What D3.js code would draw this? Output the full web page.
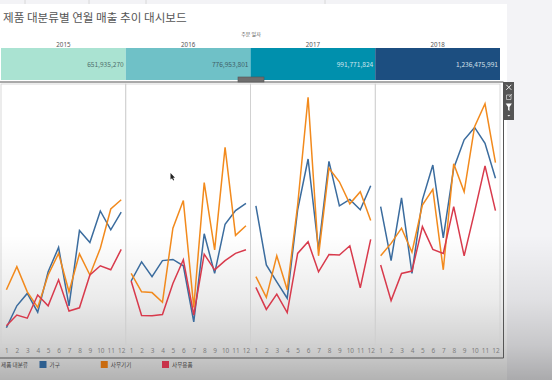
<!DOCTYPE html>
<html>
<head>
<meta charset="utf-8">
<script src="https://cdn.jsdelivr.net/npm/d3@7"></script>
<style>
  html, body { margin: 0; padding: 0; background: #f3f3f6; overflow: hidden; }
  text { font-family: "Noto Sans CJK KR", "Noto Sans", sans-serif; }
</style>
</head>
<body>
<div id="chart"></div>
<script>
const years = ["2015", "2016", "2017", "2018"];
const months = [1, 2, 3, 4, 5, 6, 7, 8, 9, 10, 11, 12];
const yearTotals = [651935270, 776953801, 991771824, 1236475991];
const yearColors = ["#aae3d2", "#6fc1c7", "#0090ad", "#1c4e80"];
const yearTextColors = ["#4f6f6c", "#3f5f68", "#cfe6ee", "#d5e0ea"];
const categories = ["가구", "사무기기", "사무용품"];
const categoryColors = ["#3b6c9e", "#f28a1d", "#d83a4c"];
const legendColors = ["#2e5f8f", "#c96b10", "#c8334a"];

// monthly sales by category, millions, one row per year
const furniture = [
  [4.3, 9.8, 12.9, 8.2, 18.3, 24.4, 9.8, 28.6, 25.6, 33.5, 28.8, 33.2],
  [16, 20.8, 17.1, 21.1, 21.4, 19.8, 5.8, 27.8, 17.9, 30.2, 33.6, 35.4],
  [34.8, 20, 15.8, 11.7, 33.8, 46.5, 23.9, 45.9, 34.8, 36.4, 33.8, 39.8],
  [34.6, 21.1, 36.8, 17.9, 36.3, 45, 26.8, 44.2, 51.3, 54.4, 50.4, 41.7],
];
const officeMachines = [
  [13.8, 19.6, 13.3, 9.4, 17.5, 22.9, 13.3, 22.8, 17.5, 24.2, 34, 36.3],
  [17.9, 13.3, 13.1, 10.7, 29.2, 36.1, 9.4, 40.6, 23.8, 49.4, 27.4, 29.8],
  [17.1, 11.9, 22.3, 13.8, 35, 61.9, 22.3, 44.2, 40.8, 35.3, 38.3, 31.1],
  [22.3, 25.4, 29.2, 23.2, 35, 38.9, 18.8, 45.3, 38.3, 54.6, 60.3, 45.6],
];
const officeSupplies = [
  [4.8, 7.5, 6.7, 12.5, 9.8, 16.3, 8.5, 9.3, 17.5, 19.8, 18.8, 23.9],
  [16, 7.4, 7.3, 7.6, 15.4, 21.3, 7.5, 22.7, 18.8, 21.1, 22.9, 23.8],
  [14.4, 8.9, 12.7, 8.1, 22.9, 25.8, 18.3, 22.6, 22.5, 24.8, 14.3, 26.4],
  [20, 11.1, 17.9, 18.5, 29.6, 23.9, 22.9, 34.6, 22.3, 33.3, 44.8, 33.6],
];
const seriesByCategory = [furniture, officeMachines, officeSupplies];

const width = 552;
const height = 380;

const svg = d3.select("#chart").append("svg")
  .attr("width", width)
  .attr("height", height)
  .style("display", "block");

// grey fade of the video capture over the lower part
const fade = svg.append("defs").append("linearGradient")
  .attr("id", "fade").attr("gradientUnits", "userSpaceOnUse")
  .attr("x1", 0).attr("x2", 0).attr("y1", 235).attr("y2", 380);
fade.append("stop").attr("offset", "0%").attr("stop-color", "#000").attr("stop-opacity", 0);
fade.append("stop").attr("offset", "45%").attr("stop-color", "#000").attr("stop-opacity", 0.08);
fade.append("stop").attr("offset", "76%").attr("stop-color", "#000").attr("stop-opacity", 0.18);
fade.append("stop").attr("offset", "100%").attr("stop-color", "#000").attr("stop-opacity", 0.3);

// page card + top strip
svg.append("rect").attr("x", 0).attr("y", 4).attr("width", 507).attr("height", 376).attr("fill", "#fff");
svg.append("path").attr("d", "M25,0V4M89,0V4M146,0V4M325,0V4").attr("stroke", "#d8d8d8").attr("fill", "none");
svg.append("rect").attr("width", width).attr("height", height).attr("fill", "url(#fade)");

svg.append("text").attr("x", 3).attr("y", 22)
  .attr("font-size", 11.6).attr("fill", "#555").text("제품 대분류별 연월 매출 추이 대시보드");
svg.append("text").attr("x", 251).attr("y", 36).attr("text-anchor", "middle")
  .attr("font-size", 5).attr("fill", "#555").text("주문 일자");

// year band
const x = d3.scaleBand().domain(years).range([1, 500]);
const band = svg.append("g");
band.selectAll("rect").data(years).join("rect")
  .attr("x", (d) => x(d)).attr("y", 48)
  .attr("width", x.bandwidth()).attr("height", 32)
  .attr("fill", (d, i) => yearColors[i]);
band.selectAll("text.total").data(years).join("text")
  .attr("class", "total")
  .attr("x", (d) => x(d) + x.bandwidth() - 2).attr("y", 67)
  .attr("text-anchor", "end").attr("font-size", 6.6)
  .attr("fill", (d, i) => yearTextColors[i])
  .text((d, i) => d3.format(",")(yearTotals[i]));

const topAxis = svg.append("g").attr("transform", "translate(0,47)")
  .call(d3.axisTop(x).tickSize(0).tickPadding(0));
topAxis.select(".domain").remove();
topAxis.selectAll("text").attr("font-size", 6.2).attr("fill", "#555")
  .style("font-family", '"Noto Sans", sans-serif');

// line panels
const y = d3.scaleLinear().domain([0, 65]).range([345, 85]);
const xMonth = d3.scalePoint().domain(months).range([5.4, 120.2]);
const line = d3.line().x((d, i) => xMonth(months[i])).y((d) => y(d));

const panels = svg.append("g").selectAll("g").data(years).join("g")
  .attr("transform", (d) => `translate(${x(d)},0)`);

panels.append("rect")
  .attr("width", x.bandwidth()).attr("y", 84).attr("height", 261)
  .attr("fill", "none").attr("stroke", "#cfcfcf").attr("stroke-width", 0.8);

panels.each(function (year, yi) {
  const g = d3.select(this);
  const axis = g.append("g").attr("transform", "translate(0,345)")
    .call(d3.axisBottom(xMonth).tickSize(0).tickPadding(3));
  axis.select(".domain").remove();
  axis.selectAll("text").attr("font-size", 6.4).attr("fill", "#7c7c7c")
    .style("font-family", '"Noto Sans", sans-serif');
  seriesByCategory.forEach((rows, ci) => {
    g.append("path")
      .attr("d", line(rows[yi]))
      .attr("fill", "none")
      .attr("stroke", categoryColors[ci])
      .attr("stroke-width", 1.5);
  });
});

// selection frame around the line sheet
svg.append("path")
  .attr("d", "M0,82H503.5V358H0")
  .attr("fill", "none").attr("stroke", "#555").attr("stroke-width", 1);
svg.append("rect").attr("x", 238).attr("y", 77).attr("width", 26).attr("height", 5)
  .attr("fill", "#6e6e6e").attr("stroke", "#555").attr("stroke-width", 0.6);

// floating toolbar
const tools = svg.append("g").attr("transform", "translate(503.5,82)");
tools.append("rect").attr("width", 10.5).attr("height", 38).attr("fill", "#555");
tools.append("path").attr("d", "M2.8,2.8L7.8,7.8M7.8,2.8L2.8,7.8").attr("stroke", "#eee").attr("fill", "none");
tools.append("path").attr("d", "M3,13H7.5V17.5H3ZM5.5,15L8.5,12").attr("stroke", "#ddd").attr("fill", "none").attr("stroke-width", 0.7);
tools.append("path").attr("d", "M2.2,21.5H8.4L6,25V29L4.6,28V25Z").attr("fill", "#fff");
tools.append("path").attr("d", "M3.8,33H6.8L5.3,34.6Z").attr("fill", "#eee");

// legend
svg.append("text").attr("x", 1).attr("y", 366.5).attr("font-size", 5.6).attr("fill", "#444").text("제품 대분류");
const legendX = d3.scalePoint().domain(categories).range([39.5, 162]);
const legend = svg.append("g").selectAll("g").data(categories).join("g")
  .attr("transform", (d) => `translate(${legendX(d)},361)`);
legend.append("rect").attr("width", 7).attr("height", 7).attr("fill", (d, i) => legendColors[i]);
legend.append("text").attr("x", 10).attr("y", 5.5).attr("font-size", 5.6).attr("fill", "#444").text((d) => d);

// mouse pointer from the screen capture
svg.append("path").attr("d", "M170.5,173V179.5L172,178.2L173.2,180.5L174.2,180L173,177.7H175Z").attr("fill", "#222");
</script>
</body>
</html>
